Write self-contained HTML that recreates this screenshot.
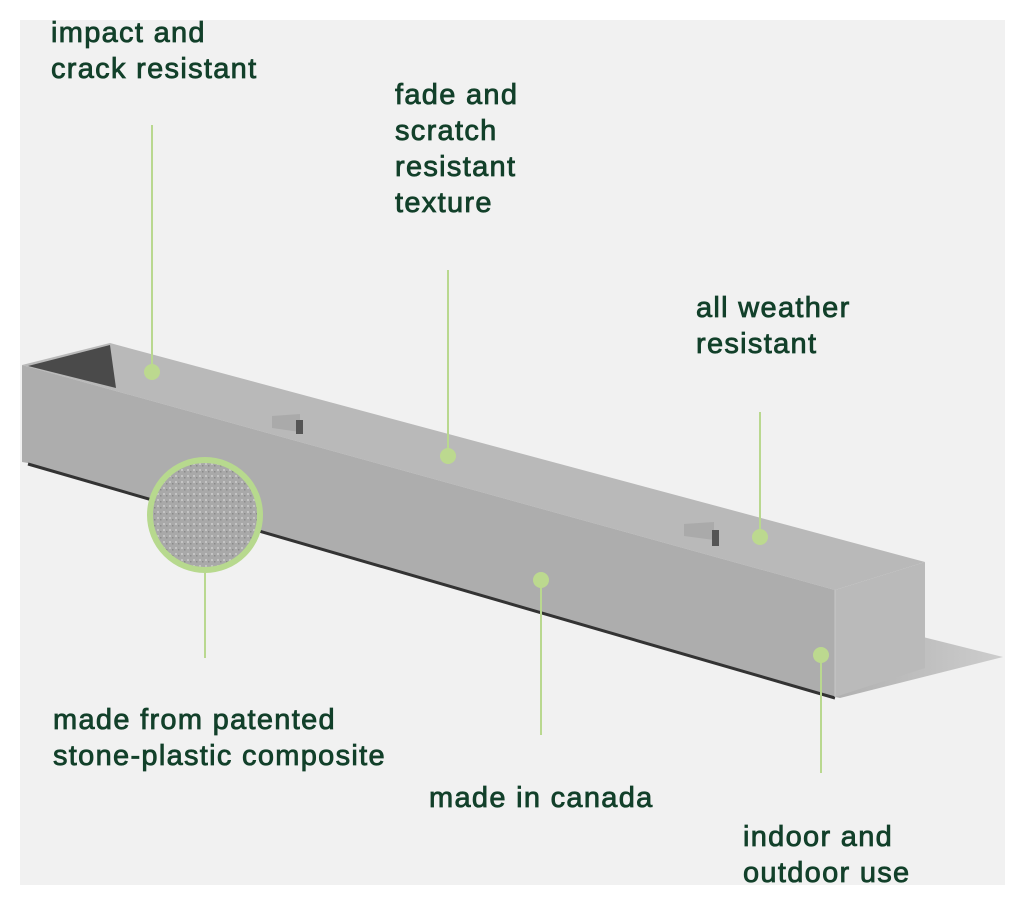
<!DOCTYPE html>
<html><head><meta charset="utf-8"><style>
html,body{margin:0;padding:0;background:#fff;}
svg{display:block}
text{font-family:"Liberation Sans",sans-serif;font-size:29px;letter-spacing:1.3px;fill:#12402a;stroke:#12402a;stroke-width:0.8px;}
</style></head><body>
<svg width="1024" height="904" viewBox="0 0 1024 904">
<defs>
<pattern id="dots" width="6" height="6" patternUnits="userSpaceOnUse">
<rect width="6" height="6" fill="#a9a9a9"/>
<rect x="1" y="1" width="2" height="2" fill="#c4c4c4"/>
<rect x="4" y="3" width="1.5" height="1.5" fill="#8a8a8a"/>
</pattern>
<linearGradient id="sh" x1="0" y1="0" x2="1" y2="0">
<stop offset="0" stop-color="#b0b0b0"/><stop offset="1" stop-color="#cdcdcd"/>
</linearGradient>
</defs>
<rect x="20" y="20" width="985" height="865" fill="#f1f1f1"/>
<polygon points="923,637 1003,657 840,698 835,697" fill="url(#sh)"/>
<polygon points="22,365 110,343 925,562 835,590" fill="#b9b9b9"/>
<polygon points="28,366 110,345 116,388" fill="#4a4a4a"/>
<polygon points="272,416 300,414 300,432 272,428" fill="#aaa"/>
<rect x="296" y="420" width="7" height="14" fill="#555"/>
<polygon points="684,524 714,522 714,540 684,536" fill="#aaa"/>
<rect x="712" y="530" width="7" height="16" fill="#555"/>
<polygon points="22,365 835,590 835,697 28,463 22,462" fill="#adadad"/>
<line x1="28" y1="464" x2="835" y2="698" stroke="#333" stroke-width="3"/>
<polygon points="835,590 925,562 925,668 835,697" fill="#bababa"/>
<line x1="835" y1="590" x2="835" y2="697" stroke="#c8c8c8" stroke-width="1"/>
<circle cx="205" cy="515" r="55" fill="url(#dots)" stroke="#b7d98e" stroke-width="6"/>
<g stroke="#b9d88f" stroke-width="2" fill="none">
<line x1="152" y1="125" x2="152" y2="372"/>
<line x1="448" y1="270" x2="448" y2="456"/>
<line x1="760" y1="412" x2="760" y2="537"/>
<line x1="205" y1="572" x2="205" y2="658"/>
<line x1="541" y1="580" x2="541" y2="735"/>
<line x1="821" y1="655" x2="821" y2="773"/>
</g>
<g fill="#bcd98f">
<circle cx="152" cy="372" r="8"/>
<circle cx="448" cy="456" r="8"/>
<circle cx="760" cy="537" r="8"/>
<circle cx="541" cy="580" r="8"/>
<circle cx="821" cy="655" r="8"/>
</g>
<text x="51" y="42">impact and</text>
<text x="51" y="78">crack resistant</text>
<text x="395" y="104">fade and</text>
<text x="395" y="140">scratch</text>
<text x="395" y="176">resistant</text>
<text x="395" y="212">texture</text>
<text x="696" y="317">all weather</text>
<text x="696" y="353">resistant</text>
<text x="53" y="729">made from patented</text>
<text x="53" y="765">stone-plastic composite</text>
<text x="429" y="807">made in canada</text>
<text x="743" y="846">indoor and</text>
<text x="743" y="882">outdoor use</text>
</svg>
</body></html>
